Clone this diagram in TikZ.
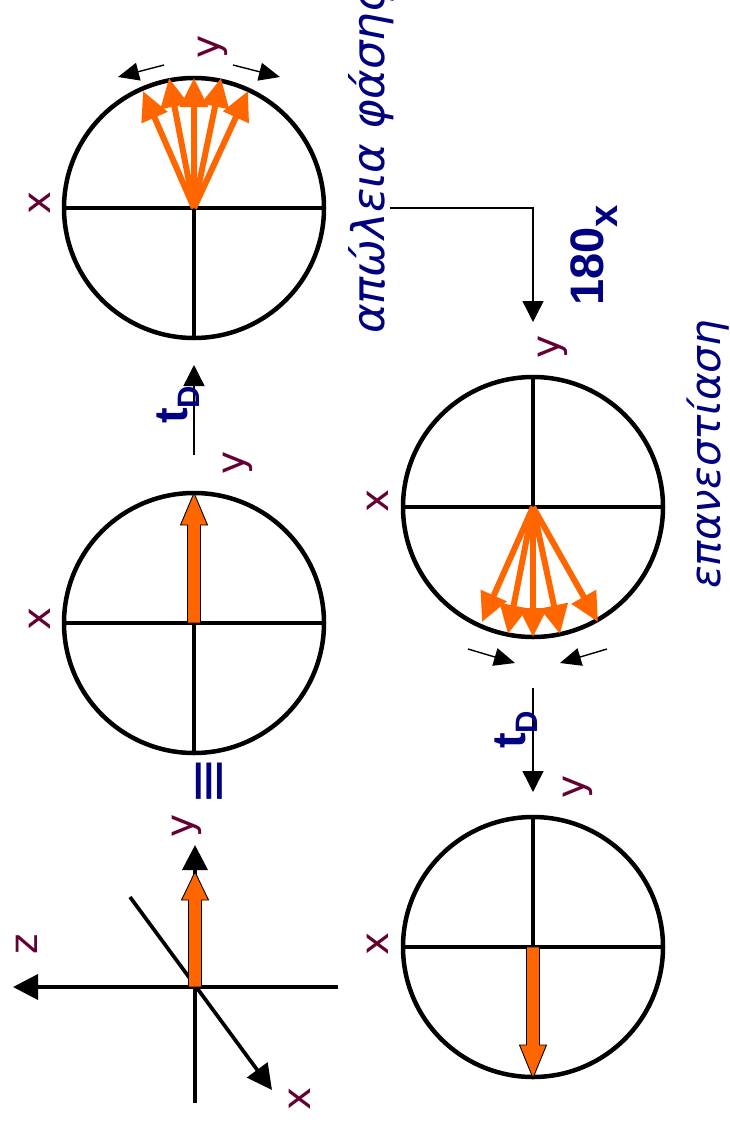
\documentclass[tikz,border=0pt]{standalone}
\usepackage{fontspec}
\setmainfont{DejaVu Sans}
\newfontfamily\boldfont{Liberation Sans}
\usetikzlibrary{arrows.meta}
\definecolor{ornge}{RGB}{255,102,0}
\definecolor{navyc}{RGB}{0,0,128}
\definecolor{maroonc}{RGB}{102,0,51}
\begin{document}
\begin{tikzpicture}[x=1pt,y=-1pt,
  ring/.style={circle, draw, line width=4.5pt, minimum size=260pt, inner sep=0pt},
  axline/.style={line width=3.5pt},
  lbl/.style={text=maroonc, font=\fontsize{39}{39}\selectfont, rotate=90, inner sep=0pt},
  tdlbl/.style={text=navyc, font=\boldfont\bfseries\fontsize{47}{47}\selectfont, rotate=90, inner sep=0pt, anchor=base west},
  greek/.style={text=navyc, font=\itshape\fontsize{42}{42}\selectfont, rotate=90, inner sep=0pt, anchor=base west},
  thin/.style={line width=1.4pt, -{Triangle[length=21pt,width=21pt]}},
  small/.style={line width=1.4pt, -{Triangle[length=21pt,width=18pt]}},
  fan/.style={draw=ornge, line width=6pt, -{Triangle[length=29pt,width=27pt]}},
  block/.style={fill=ornge, draw=black, line width=0.9pt, line join=miter},
  framearr/.style={line width=3.7pt, -{Triangle[length=25pt,width=25pt]}},
]
\useasboundingbox (0,0) rectangle (730,1124);

% ---------- circle 1 (dephasing fan) ----------
\node[ring] (c1) at (194,208) {};
\draw[axline] (c1.west) -- (c1.east);
\draw[axline] (c1.center) -- (c1.south);
\coordinate (f1a) at (143,91);
\coordinate (f1b) at (169,78);
\coordinate (f1c) at (194,78);
\coordinate (f1d) at (221,78);
\coordinate (f1e) at (248,91);
\foreach \t in {f1a,f1b,f1c,f1d,f1e} \draw[fan] (c1.center) -- (\t);
\node[lbl] (c1x) at (40,203) {x};
\node[lbl] (c1y) at (213,47) {y};
\coordinate (s1a) at (164,65); \coordinate (s1b) at (118,77);
\coordinate (s1c) at (233,65); \coordinate (s1d) at (280,77);
\draw[small] (s1a) -- (s1b);
\draw[small] (s1c) -- (s1d);

% ---------- t_D arrow 1 ----------
\coordinate (td1s) at (194,455);
\coordinate (td1e) at (194,365);
\draw[thin] (td1s) -- (td1e);
\node[tdlbl] (td1) at (187,424) {t\raisebox{-12pt}{\fontsize{31}{31}\selectfont D}};

% ---------- circle 2 ----------
\node[ring] (c2) at (194,623) {};
\draw[axline] (c2.west) -- (c2.east);
\draw[axline] (c2.center) -- (c2.south);
\draw[block] (187.5,623) -- (187.5,525) -- (180.5,525) -- (194,493) -- (207.5,525) -- (200.5,525) -- (200.5,623) -- cycle;
\node[lbl] (c2x) at (40,619) {x};
\node[lbl] (c2y) at (238,463) {y};
\node[lbl, text=navyc, font=\fontsize{58}{58}\selectfont] (eq) at (212,781) {≡};

% ---------- coordinate frame ----------
\coordinate (O) at (195,987);
\coordinate (zr) at (338,987);
\coordinate (zt) at (13,987);
\coordinate (yb) at (195,1103);
\coordinate (yt) at (195,845);
\coordinate (xa) at (130,897);
\coordinate (xt) at (272,1090);
\draw[framearr] (zr) -- (zt);
\draw[framearr] (yb) -- (yt);
\draw[framearr] (xa) -- (xt);
\draw[block] (188.5,987) -- (188.5,900) -- (181.5,900) -- (195,872) -- (208.5,900) -- (201.5,900) -- (201.5,987) -- cycle;
\node[lbl] (fz) at (27,944) {z};
\node[lbl] (fy) at (187,826) {y};
\node[lbl] (fx) at (300,1099) {x};

% ---------- texts ----------
\node[greek, font=\itshape\fontsize{45}{45}\selectfont] (loss) at (384,334) {απώλεια φάσης};
\node[greek] (refoc) at (720,589) {επανεστίαση};
\node[tdlbl] (deg) at (603,306) {180\raisebox{-14pt}{\fontsize{40}{40}\selectfont x}};

% ---------- connector to circle 3 ----------
\coordinate (lossend) at (390,208);
\coordinate (bend) at (533,208);
\coordinate (c3in) at (533,322);
\draw[thin] (lossend) -- (bend) -- (c3in);

% ---------- circle 3 (refocusing fan) ----------
\node[ring] (c3) at (533,507) {};
\draw[axline] (c3.west) -- (c3.east);
\draw[axline] (c3.north) -- (c3.center);
\coordinate (f3a) at (482,622);
\coordinate (f3b) at (508,634);
\coordinate (f3c) at (533,637);
\coordinate (f3d) at (560,634);
\coordinate (f3e) at (598,622);
\foreach \t in {f3a,f3b,f3c,f3d,f3e} \draw[fan] (c3.center) -- (\t);
\node[lbl] (c3x) at (378,501) {x};
\node[lbl] (c3y) at (553,347) {y};
\coordinate (s3a) at (468,649); \coordinate (s3b) at (515,663);
\coordinate (s3c) at (607,649); \coordinate (s3d) at (560,663);
\draw[small] (s3a) -- (s3b);
\draw[small] (s3c) -- (s3d);

% ---------- t_D arrow 2 ----------
\coordinate (td2s) at (533,688);
\coordinate (td2e) at (533,792);
\draw[thin] (td2s) -- (td2e);
\node[tdlbl] (td2) at (525,749) {t\raisebox{-12pt}{\fontsize{31}{31}\selectfont D}};

% ---------- circle 4 ----------
\node[ring] (c4) at (533,947) {};
\draw[axline] (c4.west) -- (c4.east);
\draw[axline] (c4.north) -- (c4.center);
\draw[block] (526.5,947) -- (526.5,1045) -- (519.5,1045) -- (533,1078) -- (546.5,1045) -- (539.5,1045) -- (539.5,947) -- cycle;
\node[lbl] (c4x) at (378,944) {x};
\node[lbl] (c4y) at (578,787) {y};
\end{tikzpicture}
\end{document}
